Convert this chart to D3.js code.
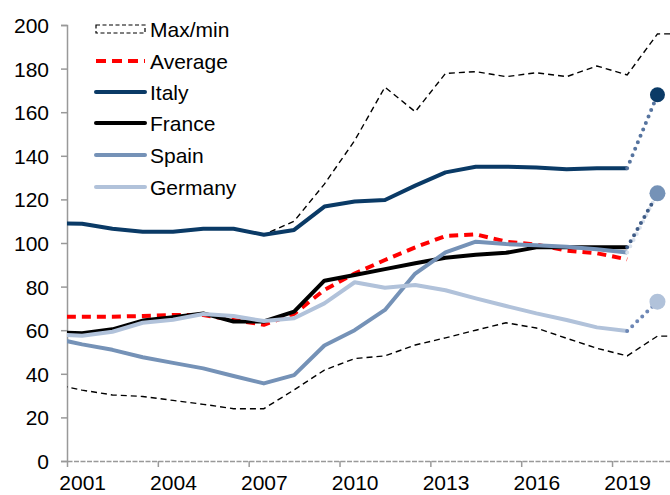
<!DOCTYPE html>
<html>
<head>
<meta charset="utf-8">
<script src="https://cdn.jsdelivr.net/npm/d3@7"></script>
<style>
  body { margin: 0; background: #fff; }
  text { font-family: "Liberation Sans", Arial, sans-serif; fill: #000; }
</style>
</head>
<body>
<div id="chart"></div>
<script>
// annual values, plotted at mid-year
var years = [2000, 2001, 2002, 2003, 2004, 2005, 2006, 2007, 2008, 2009,
             2010, 2011, 2012, 2013, 2014, 2015, 2016, 2017, 2018, 2019];
var italy   = [109, 108.8, 106.5, 105.2, 105.2, 106.5, 106.5, 103.8, 106, 116.7,
               119, 119.7, 126.3, 132.4, 135, 135, 134.6, 133.8, 134.3, 134.3];
var france  = [59, 58.6, 60.4, 64.4, 66, 67.7, 64, 64, 68.5, 82.7,
               85.3, 88, 90.7, 93.2, 94.6, 95.5, 98, 98, 98, 98];
var spain   = [56.5, 53.5, 51, 47.6, 45, 42.5, 39, 35.6, 39.4, 53,
               60, 69.3, 86, 95.7, 100.6, 99.5, 99, 98.3, 97.1, 95.6];
var germany = [58.2, 57.5, 59.3, 63.4, 64.8, 67.4, 66.5, 64.2, 65.5, 72.3,
               82, 79.5, 80.7, 78.3, 74.6, 71.1, 67.7, 64.7, 61.3, 59.6];
var average = [66.2, 66.2, 66.2, 66.5, 67, 67, 64.7, 62.5, 67.5, 78.5,
               86, 92.2, 98, 103.2, 104, 100.6, 99.3, 96.5, 95.3, 92.5];

// max/min run two more years
var rangeYears = [2000, 2001, 2002, 2003, 2004, 2005, 2006, 2007, 2008, 2009, 2010,
                  2011, 2012, 2013, 2014, 2015, 2016, 2017, 2018, 2019, 2020, 2021];
var maxVals = [109, 108.8, 106.5, 105.2, 105.2, 106.5, 106.5, 103.8, 110, 127, 147,
               171.5, 160.2, 177.8, 178.6, 176.3, 178.1, 176.3, 181.2, 177.1, 195.9, 196];
var minVals = [35.5, 32.5, 30.3, 29.6, 27.8, 26, 24, 24, 32.6, 41.7, 47,
               48.2, 53.2, 56.5, 60, 63.4, 61, 56.3, 51.7, 48.2, 57.3, 57.3];

// 2020 projections
var projYear = 2020;
var projItaly = 168, projFrance = 122.6, projSpain = 122.8, projGermany = 73.1;

var yTicks = [0, 20, 40, 60, 80, 100, 120, 140, 160, 180, 200];
var xTicks = [2001, 2004, 2007, 2010, 2013, 2016, 2019];

function base() {
    var w = 670, h = 495;
    var left = 67, right = 672.6, top = 25, bottom = 461;

    var svg = d3.select("#chart").append("svg")
        .attr("width", w)
        .attr("height", h);

    var xScale = d3.scaleLinear().domain([2001, 2021]).range([left, right]);
    var yScale = d3.scaleLinear().domain([0, 200]).range([bottom, top]);

    svg.append("clipPath").attr("id", "plot")
        .append("rect")
        .attr("x", left).attr("y", 0)
        .attr("width", w - left).attr("height", bottom + 2);

    // axes
    var yAxis = d3.axisLeft(yScale).tickValues(yTicks).tickSize(6).tickPadding(12);
    var gy = svg.append("g").attr("transform", "translate(" + left + ",0)").call(yAxis);
    gy.select(".domain").attr("stroke", "#999").attr("stroke-width", 1.5);
    gy.selectAll(".tick line").attr("stroke", "#999").attr("stroke-width", 1.5);
    gy.selectAll(".tick text").attr("font-size", "21px").attr("dy", "0.36em");

    // ticks sit on year boundaries, labels centred on the year
    var xAxis = d3.axisBottom(xScale).tickValues(xTicks).tickFormat(d3.format("d"))
        .tickSize(6).tickSizeOuter(0).tickPadding(8);
    var gx = svg.append("g").attr("transform", "translate(0," + bottom + ")").call(xAxis);
    gx.select(".domain").attr("stroke", "#999").attr("stroke-width", 1.5)
        .attr("stroke-dasharray", "5,1.5");
    gx.selectAll(".tick line").attr("stroke", "#999").attr("stroke-width", 1.5);
    gx.selectAll(".tick text").attr("font-size", "21px").attr("dy", "0.7em")
        .attr("x", xScale(2001.5) - xScale(2001));

    var plot = svg.append("g").attr("clip-path", "url(#plot)");

    function lineOf(xs, vals) {
        return d3.line()
            .x(function(d, i) { return xScale(xs[i] + 0.5); })
            .y(function(d) { return yScale(d); })(vals);
    }

    // max / min
    [maxVals, minVals].forEach(function(v) {
        plot.append("path").attr("d", lineOf(rangeYears, v))
            .attr("fill", "none").attr("stroke", "#000")
            .attr("stroke-width", 1.4).attr("stroke-dasharray", "6,4");
    });

    var series = [
        { name: "Average", vals: average, color: "#ff0000", dash: "9,6", width: 4 },
        { name: "Italy", vals: italy, color: "#0a3a66", dash: null, width: 4 },
        { name: "France", vals: france, color: "#000000", dash: null, width: 4 },
        { name: "Spain", vals: spain, color: "#7592b7", dash: null, width: 4 },
        { name: "Germany", vals: germany, color: "#b1c2da", dash: null, width: 4 }
    ];

    series.forEach(function(s) {
        plot.append("path").attr("d", lineOf(years, s.vals))
            .attr("fill", "none").attr("stroke", s.color)
            .attr("stroke-width", s.width)
            .attr("stroke-dasharray", s.dash)
            .attr("stroke-linejoin", "round");
    });

    // dotted projections to 2020 and end markers
    var last = years.length - 1;
    var proj = [
        { from: spain[last], to: projSpain, dot: "#d9e1ec", circle: null },
        { from: france[last], to: projFrance, dot: "#3f5c87", circle: null },
        { from: italy[last], to: projItaly, dot: "#56749f", circle: "#0a3a66", r: 7.5 },
        { from: spain[last], to: projSpain, dot: null, circle: "#7592b7", r: 8 },
        { from: germany[last], to: projGermany, dot: "#6d87b5", circle: "#b1c2da", r: 8 }
    ];

    proj.forEach(function(p) {
        if (p.dot) {
            plot.append("line")
                .attr("x1", xScale(years[last] + 0.5)).attr("y1", yScale(p.from))
                .attr("x2", xScale(projYear + 0.5)).attr("y2", yScale(p.to))
                .attr("stroke", p.dot).attr("stroke-width", 4)
                .attr("stroke-linecap", "round").attr("stroke-dasharray", "0,7");
        }
    });
    proj.forEach(function(p) {
        if (p.circle) {
            plot.append("circle")
                .attr("cx", xScale(projYear + 0.5)).attr("cy", yScale(p.to))
                .attr("r", p.r).attr("fill", p.circle);
        }
    });

    // legend
    var legend = svg.append("g");
    var rowY = [29, 61, 92, 123, 155, 187];

    legend.append("rect")
        .attr("x", 96).attr("y", rowY[0] - 4).attr("width", 49).attr("height", 8)
        .attr("fill", "none").attr("stroke", "#000").attr("stroke-width", 1.2)
        .attr("stroke-dasharray", "4,2.5");
    legend.append("text").attr("x", 150).attr("y", rowY[0]).attr("dy", "0.36em")
        .attr("font-size", "21px").text("Max/min");

    series.forEach(function(s, i) {
        var y = rowY[i + 1];
        legend.append("line")
            .attr("x1", 96).attr("x2", 145).attr("y1", y).attr("y2", y)
            .attr("stroke", s.color).attr("stroke-width", 4)
            .attr("stroke-linecap", s.dash ? "butt" : "round")
            .attr("stroke-dasharray", s.dash ? "10,6" : null);
        legend.append("text").attr("x", 150).attr("y", y).attr("dy", "0.36em")
            .attr("font-size", "21px").text(s.name);
    });
}

window.onload = base;
</script>
</body>
</html>
